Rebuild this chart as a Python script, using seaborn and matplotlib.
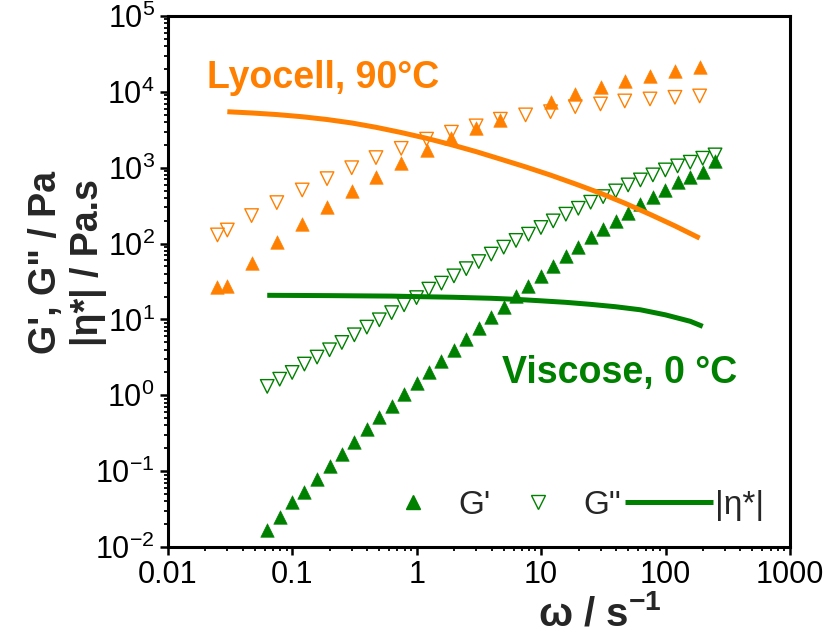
import matplotlib
matplotlib.use("Agg")
import matplotlib.pyplot as plt
from matplotlib.lines import Line2D
from matplotlib.ticker import FixedLocator, FixedFormatter, LogLocator, NullFormatter
import numpy as np
import pandas as pd
import seaborn as sns

ORANGE = "#FF8000"
GREEN = "#008000"

# ---- Lyocell solution, 90 °C ----
omega_lyo = [0.025, 0.030, 0.047, 0.075, 0.12, 0.19, 0.30, 0.47, 0.75, 1.2, 1.9,
             3.0, 4.7, 7.5, 11.9, 18.8, 30, 47, 75, 119, 188]
gp_lyo = [26.7, 27.2, 55.5, 106, 182, 302, 499, 763, 1170, 1720, 2450,
          3310, 4270, np.nan, 7300, 9380, 11500, 13900, 16200, 18800, 21500]
gpp_lyo = [130, 151, 234, 347, 509, 718, 1000, 1360, 1800, 2380, 2940,
           3560, 4360, 4970, 5480, 6390, 6930, 7590, 8060, 8480, 8830]
omega_eta_lyo = omega_lyo[1:]
eta_lyo = [5470, 5270, 5020, 4700, 4320, 3890, 3410, 2910, 2440, 2010,
           1630, 1300, 1025, 799, 612, 461, 341, 243, 171, 118]

# ---- Viscose solution, 0 °C ----
omega_vis = [0.0628, 0.0791, 0.0996, 0.125, 0.158, 0.199, 0.250, 0.315, 0.397, 0.500,
             0.628, 0.791, 0.996, 1.25, 1.58, 1.99, 2.50, 3.15, 3.97, 5.00,
             6.28, 7.91, 9.96, 12.5, 15.8, 19.9, 25.0, 31.5, 39.7, 50.0,
             62.8, 79.1, 99.6, 125, 158, 199, 250]
gp_vis = [0.0166, 0.0245, 0.0392, 0.0531, 0.0787, 0.118, 0.169, 0.242, 0.362, 0.516,
          0.727, 1.04, 1.45, 2.02, 2.79, 3.98, 5.5, 7.69, 10.9, 14.6,
          20.3, 27.8, 37.8, 51.3, 69.5, 91.3, 121, 155, 201, 256,
          333, 416, 510, 656, 764, 889, 1242]
gpp_vis = [1.31, 1.63, 2.0, 2.58, 3.19, 3.98, 4.97, 6.27, 7.92, 9.89,
           12.3, 15.6, 19.4, 25.1, 30.1, 37.5, 46.7, 57.9, 72.7, 89.7,
           110, 133, 163, 199, 244, 292, 351, 416, 494, 593,
           690, 804, 935, 1056, 1182, 1334, 1475]
omega_eta_vis = [0.0628, 0.199, 0.628, 0.996, 1.99, 3.97, 6.28, 9.96,
                 15.8, 25.0, 39.7, 62.8, 99.6, 158, 199]
eta_vis = [20.8, 20.6, 20.3, 20.0, 19.6, 19.0, 18.4, 17.6,
           16.8, 15.8, 14.7, 13.4, 11.5, 9.45, 8.1]

x_ticks = [0.01, 0.1, 1, 10, 100, 1000]
x_tick_labels = ["0.01", "0.1", "1", "10", "100", "1000"]
y_ticks = [1e-2, 1e-1, 1e0, 1e1, 1e2, 1e3, 1e4, 1e5]
y_tick_labels = ["$10^{-2}$", "$10^{-1}$", "$10^{0}$", "$10^{1}$",
                 "$10^{2}$", "$10^{3}$", "$10^{4}$", "$10^{5}$"]

sns.set_theme(style="ticks")
plt.rcParams["font.family"] = ["Liberation Sans", "DejaVu Sans"]
plt.rcParams["mathtext.fontset"] = "custom"
plt.rcParams["mathtext.rm"] = "Liberation Sans"
plt.rcParams["mathtext.it"] = "Liberation Sans:italic"
plt.rcParams["mathtext.bf"] = "Liberation Sans:bold"
plt.rcParams["mathtext.default"] = "regular"
plt.rcParams["axes.unicode_minus"] = False

fig = plt.figure(figsize=(8.25, 6.4), dpi=100)
ax = fig.add_axes([0.2036, 0.1453, 0.7539, 0.8297])

MS = 95  # marker area, pt^2

def filled(x, y, color):
    sns.scatterplot(x=x, y=y, marker="^", s=MS, color=color,
                    edgecolor=color, linewidth=0.4, ax=ax, zorder=3)

def hollow(x, y, color):
    sns.scatterplot(x=x, y=y, marker="v", s=MS, facecolor="none",
                    edgecolor=color, linewidth=1.0, ax=ax, zorder=3)

# viscose
filled(omega_vis, gp_vis, GREEN)
hollow(omega_vis, gpp_vis, GREEN)
sns.lineplot(x=omega_eta_vis, y=eta_vis, color=GREEN, lw=3.6, ax=ax,
             zorder=2, solid_capstyle="butt")

# lyocell
lyo = pd.DataFrame({"omega": omega_lyo, "gp": gp_lyo}).dropna()
filled(lyo["omega"], lyo["gp"], ORANGE)
hollow(omega_lyo, gpp_lyo, ORANGE)
sns.lineplot(x=omega_eta_lyo, y=eta_lyo, color=ORANGE, lw=3.6, ax=ax,
             zorder=4, solid_capstyle="butt")

ax.set_xscale("log")
ax.set_yscale("log")
ax.set_xlim(0.01, 1000)
ax.set_ylim(0.01, 1e5)

ax.xaxis.set_major_locator(FixedLocator(x_ticks))
ax.xaxis.set_major_formatter(FixedFormatter(x_tick_labels))
ax.yaxis.set_major_locator(FixedLocator(y_ticks))
ax.yaxis.set_major_formatter(FixedFormatter(y_tick_labels))
for axis in (ax.xaxis, ax.yaxis):
    axis.set_minor_locator(LogLocator(base=10, subs=np.arange(2, 10), numticks=20))
    axis.set_minor_formatter(NullFormatter())

ax.tick_params(which="major", direction="out", length=5.5, width=1.8,
               labelsize=22, pad=4, color="black", labelcolor="black")
ax.tick_params(which="minor", direction="out", length=3, width=1.3, color="black")
ax.tick_params(top=False, right=False, which="both")
for sp in ax.spines.values():
    sp.set_linewidth(2.2)
    sp.set_color("black")
    sp.set_visible(True)

ax.set_xlabel("ω / s$^{\\mathbf{-1}}$", fontsize=29, fontweight="bold")
ax.xaxis.set_label_coords(0.695, -0.09)
ax.set_ylabel("G', G\" / Pa\n|η*| / Pa.s", fontsize=27, fontweight="bold",
              linespacing=1.2)
ax.yaxis.set_label_coords(-0.098, 0.535)

ax.text(0.0627, 0.8644, "Lyocell, 90°C", transform=ax.transAxes, color=ORANGE,
        fontsize=27, fontweight="bold", ha="left", va="baseline")
ax.text(0.5365, 0.309, "Viscose, 0 °C", transform=ax.transAxes, color=GREEN,
        fontsize=27, fontweight="bold", ha="left", va="baseline")

handles = [
    Line2D([], [], ls="none", marker="^", ms=9.5, color=GREEN, mec=GREEN),
    Line2D([], [], ls="none", marker="v", ms=9.5, mfc="none", mec=GREEN, mew=1.0),
    Line2D([], [], color=GREEN, lw=3.6, solid_capstyle="butt"),
]
ax.legend(handles, ["G'", "G\"", "|η*|"], ncol=3, frameon=False, fontsize=24,
          loc="center left", bbox_to_anchor=(0.323, 0.079), borderpad=0,
          borderaxespad=0, handlelength=2.64, handletextpad=0.05, columnspacing=0.1)

fig.savefig("out.png", dpi=100)
